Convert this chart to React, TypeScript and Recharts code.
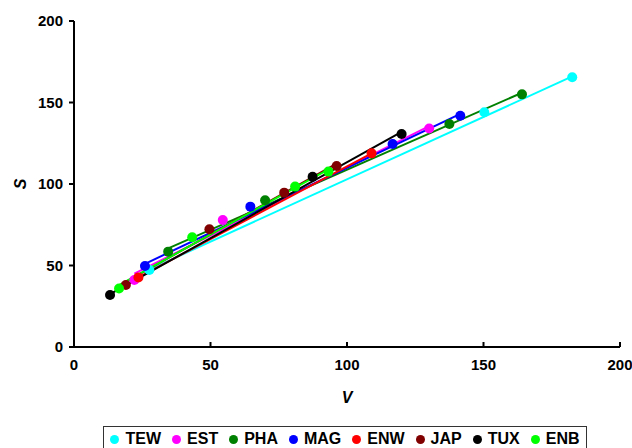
import { ComposedChart, Scatter, XAxis, YAxis } from 'recharts';

// Series names and colours
const SERIES = ['TEW', 'EST', 'PHA', 'MAG', 'ENW', 'JAP', 'TUX', 'ENB'];
const COLORS = ['#00ffff', '#ff00ff', '#008000', '#0000ff', '#ff0000', '#800000', '#000000', '#00ff00'];

// Measured points (V, S) per series
const tewV = [27.6, 150.3, 182.5];
const tewS = [47.2, 144, 165.5];
const estV = [22.1, 54.5, 130.1];
const estS = [41.1, 77.9, 134];
const phaV = [34.5, 70, 137.5, 164.1];
const phaS = [58.5, 90, 136.8, 155];
const magV = [26, 64.6, 116.7, 141.5];
const magS = [49.7, 86.1, 124.5, 141.9];
const enwV = [23.6, 109];
const enwS = [42.7, 118.8];
const japV = [19, 49.6, 77, 96.2];
const japS = [38, 72.2, 94.7, 111];
const tuxV = [13.2, 87.4, 120];
const tuxS = [31.9, 104.5, 130.7];
const enbV = [16.5, 43.3, 81, 93.2];
const enbS = [35.9, 67.3, 98.4, 107.6];

// Trend line ends (V, S) per series
const lineV = [
  [27.6, 182.5],
  [22.1, 130.1],
  [34.5, 164.1],
  [26, 141.5],
  [23.6, 109],
  [19, 96.2],
  [13.2, 120],
  [16.5, 93.2],
];
const lineS = [
  [47.5, 166],
  [45, 135.5],
  [60.5, 156],
  [51, 143],
  [42.7, 118.8],
  [40, 112.5],
  [32.5, 132],
  [38, 109],
];

const AXIS_TICKS = [0, 50, 100, 150, 200];

const pointsV = [tewV, estV, phaV, magV, enwV, japV, tuxV, enbV];
const pointsS = [tewS, estS, phaS, magS, enwS, japS, tuxS, enbS];

const zip = (vs: number[], ss: number[]) => vs.map((v, i) => ({ v, s: ss[i] }));

const FONT = 'Arial, "Liberation Sans", sans-serif';
const X_TICK_MARGIN = 12;

function XTick({ x, y, payload }: any) {
  const axisY = y - X_TICK_MARGIN;
  return (
    <g>
      <line x1={x} x2={x} y1={axisY} y2={axisY - 5} stroke="#000" strokeWidth={2} />
      <text
        x={x}
        y={y}
        dy="0.71em"
        textAnchor="middle"
        fontFamily={FONT}
        fontWeight="bold"
        fontSize={15}
        fill="#000"
      >
        {payload.value}
      </text>
    </g>
  );
}

function Dot({ cx, cy, fill }: any) {
  return <circle cx={cx} cy={cy} r={5} fill={fill} />;
}

function NoDot() {
  return <g />;
}

export default function App() {
  return (
    <div style={{ position: 'absolute', left: 0, top: 0, width: 632, height: 448, background: '#fff', overflow: 'hidden' }}>
      <ComposedChart width={632} height={448} margin={{ top: 21, right: 12, bottom: 71, left: 14 }}>
        <XAxis
          type="number"
          dataKey="v"
          domain={[0, 200]}
          ticks={AXIS_TICKS}
          interval={0}
          tickSize={0}
          tickMargin={X_TICK_MARGIN}
          tick={<XTick />}
          height={30}
          axisLine={{ stroke: '#000', strokeWidth: 2 }}
          label={{
            content: ({ viewBox }: any) => (
              <text
                x={viewBox.x + viewBox.width / 2}
                y={viewBox.y + 56}
                textAnchor="middle"
                fontFamily={FONT}
                fontWeight="bold"
                fontStyle="italic"
                fontSize={16}
                fill="#000"
              >
                V
              </text>
            ),
          }}
        />
        <YAxis
          type="number"
          dataKey="s"
          domain={[0, 200]}
          ticks={AXIS_TICKS}
          interval={0}
          width={60}
          tickSize={5}
          tickMargin={6}
          tick={{ fill: '#000', fontSize: 15, fontWeight: 'bold', fontFamily: FONT }}
          tickLine={{ stroke: '#000', strokeWidth: 2 }}
          axisLine={{ stroke: '#000', strokeWidth: 2 }}
          label={{
            content: ({ viewBox }: any) => {
              const cx = viewBox.x + 6;
              const cy = viewBox.y + viewBox.height / 2;
              return (
                <text
                  x={cx}
                  y={cy}
                  transform={`rotate(-90 ${cx} ${cy})`}
                  textAnchor="middle"
                  dominantBaseline="central"
                  fontFamily={FONT}
                  fontWeight="bold"
                  fontStyle="italic"
                  fontSize={16}
                  fill="#000"
                >
                  S
                </text>
              );
            },
          }}
        />
        {SERIES.map((name, i) => (
          <Scatter
            key={`line-${name}`}
            data={zip(lineV[i], lineS[i])}
            line={{ stroke: COLORS[i], strokeWidth: 2 }}
            shape={<NoDot />}
            legendType="none"
            isAnimationActive={false}
          />
        ))}
        {SERIES.map((name, i) => (
          <Scatter
            key={`pts-${name}`}
            name={name}
            data={zip(pointsV[i], pointsS[i])}
            fill={COLORS[i]}
            shape={<Dot />}
            isAnimationActive={false}
          />
        ))}
      </ComposedChart>
      <div
        style={{
          position: 'absolute',
          left: 103,
          top: 426,
          width: 482,
          height: 24,
          border: '1px solid #333',
          display: 'flex',
          alignItems: 'center',
          justifyContent: 'center',
          gap: 11,
          fontFamily: FONT,
          fontWeight: 'bold',
          fontSize: 16,
          color: '#000',
        }}
      >
        {SERIES.map((name, i) => (
          <div key={name} style={{ display: 'flex', alignItems: 'center', gap: 6 }}>
            <span style={{ width: 9, height: 9, borderRadius: '50%', background: COLORS[i], display: 'inline-block' }} />
            <span>{name}</span>
          </div>
        ))}
      </div>
    </div>
  );
}
